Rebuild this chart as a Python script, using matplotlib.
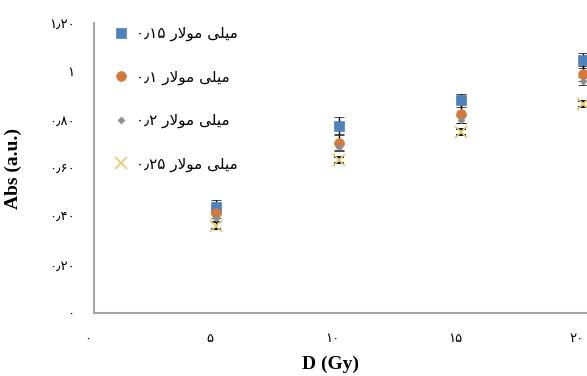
import matplotlib
matplotlib.use('Agg')
import matplotlib.pyplot as plt
import matplotlib.transforms as mtransforms

# dose (Gy)
dose = [5, 10, 15, 20]

# absorbance for each concentration
abs_015 = [0.44, 0.775, 0.88, 1.045]
abs_01 = [0.415, 0.705, 0.825, 0.99]
abs_02 = [0.395, 0.685, 0.80, 0.96]
abs_025 = [0.362, 0.633, 0.75, 0.865]

err_015 = [0.027, 0.035, 0.027, 0.03]
err_01 = [0.02, 0.03, 0.04, 0.03]
err_02 = [0.015, 0.015, 0.015, 0.015]
err_025 = [0.014, 0.012, 0.012, 0.012]

# legend: 'میلی مولار ۰٫۱۵' etc.
conc = ['۰٫۱۵', '۰٫۱', '۰٫۲', '۰٫۲۵']
# matplotlib has no arabic shaping / bidi, so the words are given as joined forms in visual order
word_visual = '\uFEAD\uFEFB\uFEEE\uFEE3 \uFBFD\uFEE0\uFBFF\uFEE3'

x_ticks = [0, 5, 10, 15, 20]
x_ticklabels = ['۰', '۵', '۱۰', '۱۵', '۲۰']
y_ticks = [0, 0.2, 0.4, 0.6, 0.8, 1.0, 1.2]
y_ticklabels = ['۰', '۰٫۲۰', '۰٫۴۰', '۰٫۶۰', '۰٫۸۰', '۱', '۱٫۲۰']

plt.rcParams['font.family'] = ['DejaVu Sans']

fig = plt.figure(figsize=(5.87, 3.76), dpi=100)
ax = fig.add_axes([94/587, 1 - 313/376, 22*24.45/587, 290/376])

series = [
    (abs_015, err_015, 's', '#4F81BD', 7, None),
    (abs_01, err_01, 'o', '#D4793A', 7, None),
    (abs_02, err_02, 'D', '#8E8E8E', 3.5, None),
    (abs_025, err_025, 'x', '#E3CC74', 8, 1.3),
]
handles = []
for (vals, errs, mk, col, ms, mew), c in zip(series, conc):
    eb = ax.errorbar(dose, vals, yerr=errs, fmt=mk, color=col, ecolor='black',
                     elinewidth=1, capsize=3.5, capthick=1, markersize=ms,
                     markeredgewidth=mew if mew else 0.5,
                     markeredgecolor=col, label=c + ' ' + word_visual)
    handles.append(eb.lines[0])

ax.set_xlim(0, 22)
ax.set_ylim(0, 1.2)
ax.set_xticks(x_ticks)
ax.set_xticklabels(x_ticklabels, fontsize=9.5)
ax.set_yticks(y_ticks)
ax.set_yticklabels(y_ticklabels, fontsize=9.5)
ax.tick_params(axis='both', length=0)
ax.tick_params(axis='x', pad=14)
ax.tick_params(axis='y', pad=14)

offset = mtransforms.ScaledTranslation(-6/100, 0, fig.dpi_scale_trans)
for lbl in ax.get_xticklabels():
    lbl.set_transform(lbl.get_transform() + offset)

for s in ['top', 'right']:
    ax.spines[s].set_visible(False)
for s in ['left', 'bottom']:
    ax.spines[s].set_color('#A6A6A6')
    ax.spines[s].set_linewidth(1.5)

ax.set_xlabel('D (Gy)', family='Liberation Serif', fontweight='bold', fontsize=14)
ax.xaxis.set_label_coords((330 - 94) / (22*24.45), -43/290)
ax.set_ylabel('Abs (a.u.)', family='Liberation Serif', fontweight='bold', fontsize=14)
ax.yaxis.set_label_coords(-72/(22*24.45), (313 - 168) / 290)

fig.legend(handles=handles, labels=[c + ' ' + word_visual for c in conc],
           loc='upper left', bbox_to_anchor=(113/587, 1 - 26/376),
           frameon=False, fontsize=11, handlelength=1.0, handletextpad=0.5,
           labelspacing=1.85, borderpad=0, borderaxespad=0)

fig.savefig('out.png', dpi=100)
